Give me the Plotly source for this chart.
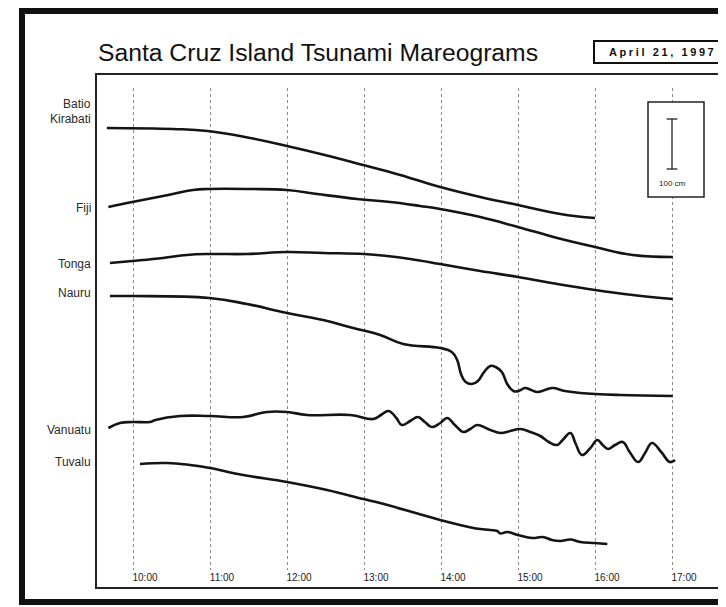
import plotly.graph_objects as go

W, H = 726, 607

# ---------------- data ----------------
hours = [10, 11, 12, 13, 14, 15, 16, 17]
hour_labels = ["10:00", "11:00", "12:00", "13:00", "14:00", "15:00", "16:00", "17:00"]

# time in decimal hours, level in cm (common offset scale of the record sheet)
kirabati_t = [9.66, 10.52, 10.97, 11.52, 12.00, 12.49, 12.99, 13.47, 13.99, 14.51, 15.00, 15.55, 16.00]
kirabati_v = [884, 882, 878, 864, 848, 830, 810, 790, 766, 746, 730, 712, 704]

fiji_t = [9.68, 9.99, 10.39, 10.78, 10.97, 11.52, 12.00, 12.39, 12.91, 13.34, 13.73, 13.99,
          14.51, 15.00, 15.51, 16.00, 16.49, 17.01]
fiji_v = [726, 736, 748, 760, 762, 762, 760, 752, 742, 736, 728, 722,
          706, 686, 664, 646, 630, 626]

tonga_t = [9.70, 9.99, 10.39, 10.70, 10.99, 11.48, 12.00, 12.47, 13.00, 13.30, 13.60, 13.99,
           14.51, 15.00, 15.51, 16.00, 16.49, 17.01]
tonga_v = [614, 618, 624, 630, 632, 632, 636, 634, 632, 628, 622, 612,
           598, 586, 572, 560, 550, 542]

nauru_t = [9.70, 9.99, 10.99, 11.48, 12.00, 12.47, 12.86, 13.21, 13.51, 13.99, 14.14, 14.21,
           14.26, 14.32, 14.40, 14.48, 14.56, 14.64, 14.71, 14.79, 14.86, 14.94, 15.01, 15.09,
           15.17, 15.25, 15.35, 15.45, 15.61, 15.81, 16.32, 17.01]
nauru_v = [548, 548, 544, 532, 514, 500, 484, 470, 452, 444, 436, 420,
           392, 376, 372, 378, 396, 408, 406, 396, 372, 358, 358, 364,
           360, 356, 360, 364, 358, 354, 350, 348]

vanuatu_t = [9.68, 9.83, 9.99, 10.22, 10.29, 10.61, 11.00, 11.43, 11.74, 12.00, 12.26, 12.82,
             13.12, 13.22, 13.32, 13.42, 13.49, 13.60, 13.70, 13.79, 13.88, 13.99, 14.08, 14.18,
             14.29, 14.38, 14.47, 14.61, 14.77, 14.90, 15.03, 15.16, 15.29, 15.40, 15.51, 15.58,
             15.68, 15.75, 15.83, 15.94, 16.03, 16.10, 16.17, 16.26, 16.36, 16.45, 16.56, 16.65,
             16.74, 16.86, 16.97, 17.04]
vanuatu_v = [284, 294, 296, 296, 300, 308, 308, 306, 316, 316, 310, 310,
             302, 310, 318, 304, 290, 298, 306, 296, 286, 294, 304, 290,
             276, 282, 290, 282, 274, 278, 282, 276, 268, 256, 250, 260,
             274, 252, 230, 244, 260, 250, 242, 250, 256, 236, 216, 234,
             254, 236, 216, 220]

tuvalu_t = [10.09, 10.44, 10.74, 11.00, 11.43, 12.00, 12.52, 12.99, 13.21, 13.99, 14.42, 14.51,
            14.64, 14.73, 14.77, 14.86, 15.00, 15.19, 15.32, 15.44, 15.55, 15.68, 15.81, 16.00, 16.16]
tuvalu_v = [212, 214, 210, 204, 190, 176, 160, 142, 134, 100, 84, 82,
            80, 78, 73, 76, 70, 64, 66, 60, 58, 61, 56, 54, 52]

series = [
    (kirabati_t, kirabati_v),
    (fiji_t, fiji_v),
    (tonga_t, tonga_v),
    (nauru_t, nauru_v),
    (vanuatu_t, vanuatu_v),
    (tuvalu_t, tuvalu_v),
]

# station labels (text, level in cm where the label sits)
station_labels = ["Batio", "Kirabati", "Fiji", "Tonga", "Nauru", "Vanuatu", "Tuvalu"]
station_label_levels = [932, 902, 724, 612, 554, 280, 216]

title_text = "Santa Cruz Island Tsunami Mareograms"
date_text = "April 21, 1997"
scale_cm = 100
scale_label = "100 cm"

# ---------------- layout helpers (screen pixels; page body has an 8px margin) ----------------
OFF = 8

def px(x):
    return (x - OFF) / W

def py(y):
    return 1 - (y - OFF) / H

PX_PER_HOUR = 77.0
X0 = 10 - (133 - OFF) / PX_PER_HOUR
X1 = X0 + W / PX_PER_HOUR
PLOT_TOP, PLOT_BOT = 88, 570
Y_RANGE = [0, (PLOT_BOT - PLOT_TOP) * 2]

fig = go.Figure()
for t, v in series:
    fig.add_trace(go.Scatter(
        x=t, y=v, mode="lines",
        line=dict(color="#141414", width=2.6, shape="spline", smoothing=1.2),
        hoverinfo="skip", showlegend=False))

font = "Liberation Sans, Arial, Helvetica, sans-serif"

shapes = [
    # outer thick frame
    dict(type="rect", xref="paper", yref="paper", x0=px(22), x1=1.2, y0=py(11), y1=py(602),
         line=dict(color="#111", width=6), fillcolor="rgba(0,0,0,0)", layer="above"),
    # inner chart frame
    dict(type="rect", xref="paper", yref="paper", x0=px(96), x1=1.2, y0=py(74), y1=py(588),
         line=dict(color="#222", width=2), fillcolor="rgba(0,0,0,0)", layer="above"),
    # date box
    dict(type="rect", xref="paper", yref="paper", x0=px(594), x1=1.2, y0=py(41), y1=py(63),
         line=dict(color="#111", width=2), fillcolor="white", layer="above"),
    # scale box
    dict(type="rect", xref="paper", yref="paper", x0=px(648), x1=px(704), y0=py(102), y1=py(197),
         line=dict(color="#222", width=1.5), fillcolor="white", layer="above"),
]
# scale bar (100 cm) drawn in data units
bar_x = hours[-1]
bar_top = Y_RANGE[1] - (119 - PLOT_TOP) * 2
bar_bot = bar_top - scale_cm
shapes += [
    dict(type="line", xref="x", yref="y", x0=bar_x, x1=bar_x, y0=bar_bot, y1=bar_top,
         line=dict(color="#222", width=1.3), layer="above"),
    dict(type="line", xref="x", yref="y", x0=bar_x - 0.07, x1=bar_x + 0.07, y0=bar_top, y1=bar_top,
         line=dict(color="#222", width=1.3), layer="above"),
    dict(type="line", xref="x", yref="y", x0=bar_x - 0.07, x1=bar_x + 0.07, y0=bar_bot, y1=bar_bot,
         line=dict(color="#222", width=1.3), layer="above"),
]

annotations = [
    dict(text=title_text, xref="paper", yref="paper", x=px(96), y=py(53),
         xanchor="left", yanchor="middle", showarrow=False,
         font=dict(family=font, size=24.7, color="#111")),
    dict(text='<span style="letter-spacing:2.6px">' + date_text + "</span>",
         xref="paper", yref="paper", x=px(607), y=py(52),
         xanchor="left", yanchor="middle", showarrow=False,
         font=dict(family=font, size=11, color="#111", weight="bold")),
    dict(text=scale_label, xref="x", yref="y", x=bar_x, y=bar_bot - 28,
         xanchor="center", yanchor="middle", showarrow=False,
         font=dict(family=font, size=8, color="#222")),
]
for name, lvl in zip(station_labels, station_label_levels):
    annotations.append(dict(text=name, xref="paper", yref="y", x=px(93), y=lvl,
                            xanchor="right", yanchor="middle", showarrow=False,
                            font=dict(family=font, size=12, color="#2a2a2a")))

fig.update_layout(
    width=W, height=H,
    margin=dict(l=0, r=0, t=0, b=0),
    paper_bgcolor="white", plot_bgcolor="white",
    shapes=shapes, annotations=annotations,
    xaxis=dict(range=[X0, X1], domain=[0, 1], tickvals=hours, ticktext=hour_labels,
               showgrid=True, gridcolor="#8a8a8a", griddash="dot", gridwidth=1,
               zeroline=False, showline=False, ticks="", ticklabelshift=12,
               tickfont=dict(family=font, size=10, color="#222"), fixedrange=True),
    yaxis=dict(range=Y_RANGE, domain=[py(PLOT_BOT), py(PLOT_TOP)],
               showgrid=False, zeroline=False, showline=False, showticklabels=False,
               ticks="", fixedrange=True),
)

fig.write_html("out.html")
